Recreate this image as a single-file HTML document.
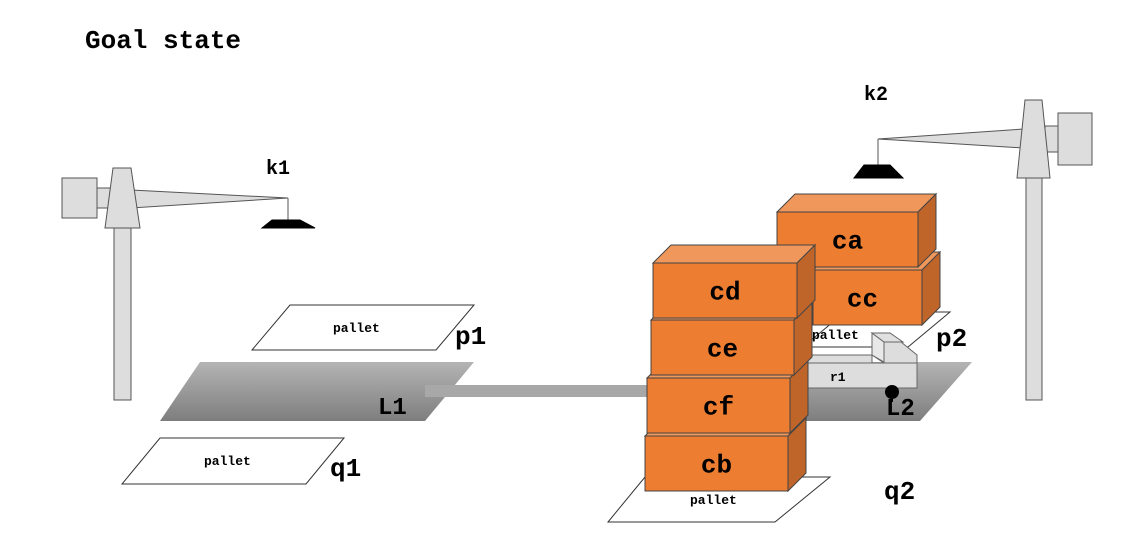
<!DOCTYPE html>
<html><head><meta charset="utf-8"><style>
body{margin:0;background:#fff}
svg{display:block}
text{font-family:"Liberation Mono",monospace;font-weight:bold;fill:#000}
</style></head><body>
<svg width="1128" height="534" viewBox="0 0 1128 534">
<defs>
<linearGradient id="gl" x1="0" y1="0" x2="0" y2="1"><stop offset="0" stop-color="#b4b4b4"/><stop offset="1" stop-color="#7e7e7e"/></linearGradient>
</defs>
<text x="85" y="48" font-size="26">Goal state</text>

<g stroke="#555" stroke-width="1" fill="#ddd">
<rect x="114" y="228" width="17" height="172"/>
<rect x="62" y="178" width="35" height="40"/>
<rect x="97" y="188" width="16" height="20"/>
<polygon points="131,190 288,198 131,208"/>
<polygon points="113,168 131,168 140,228 105,228"/>
<line x1="288" y1="198" x2="288" y2="220"/>
<polygon points="272,220 300,220 315,228 262,228" fill="#000" stroke="#000"/>
</g>
<text x="266" y="174" font-size="20">k1</text>

<g stroke="#555" stroke-width="1" fill="#ddd">
<rect x="1026" y="178" width="16" height="222"/>
<rect x="1058" y="113" width="34" height="52"/>
<rect x="1045" y="126" width="13" height="26"/>
<polygon points="1024,129 878,139 1024,148"/>
<polygon points="1025,100 1042,100 1050,178 1017,178"/>
<line x1="878" y1="139" x2="878" y2="165"/>
<polygon points="864,165 890,165 903,178 854,178" fill="#000" stroke="#000"/>
</g>
<text x="864" y="100" font-size="20">k2</text>

<polygon points="200,362 474,362 425,421 160,421" fill="url(#gl)"/>
<polygon points="810,362 972,362 920,421 800,421" fill="url(#gl)"/>
<rect x="425" y="385" width="228" height="12" fill="#a8a8a8"/>
<text x="378" y="414" font-size="24">L1</text>

<polygon points="290,305 474,305 436,350 252,350" fill="#fff" stroke="#333"/>
<text x="333" y="332" font-size="13">pallet</text>
<polygon points="160,438 344,438 306,484 122,484" fill="#fff" stroke="#333"/>
<text x="204" y="465" font-size="13">pallet</text>
<polygon points="845,312 950,312 908,347 803,347" fill="#fff" stroke="#333"/>
<polygon points="645,477 830,477 775,522 608,522" fill="#fff" stroke="#333"/>
<text x="455" y="344" font-size="26">p1</text>
<text x="330" y="476" font-size="26">q1</text>
<text x="936" y="346" font-size="26">p2</text>
<text x="884" y="499" font-size="26">q2</text>

<g stroke="#666" fill="#ddd">
<polygon points="808,355 872,355 872,363 808,363"/>
<polygon points="872,333 890,333 917,355 917,363 884,363 872,355"/>
<rect x="808" y="363" width="109" height="25"/>
<polygon points="872,333 884,342 884,362 872,355" fill="#e8e8e8"/>
<polygon points="872,333 890,333 903,342 884,342" fill="#e0e0e0"/>
</g>
<text x="830" y="381" font-size="13">r1</text>
<circle cx="892" cy="392" r="7" fill="#000"/>
<line x1="892" y1="392" x2="892" y2="402" stroke="#000" stroke-width="2"/>
<text x="886" y="415" font-size="24">L2</text>
<text x="812" y="339" font-size="13">pallet</text>

<g id="boxes"></g>
<text x="690" y="504" font-size="13">pallet</text>
</svg>
<script>
var boxNames=["cc","ca","cb","cf","ce","cd"];
var boxX=[813,777,645,647,651,653];
var boxY=[270,212,436,378,320,263];
var boxW=[109,141,143,143,143,144];
(function(){
var g=document.getElementById('boxes');
var ns='http://www.w3.org/2000/svg';
for(var i=0;i<boxNames.length;i++){
  var x=boxX[i],y=boxY[i],w=boxW[i],h=55,d=18;
  var grp=document.createElementNS(ns,'g');
  
  
  var tp=document.createElementNS(ns,'polygon');
  tp.setAttribute('points',[x,y,x+d,y-d,x+w+d,y-d,x+w,y].join(','));
  tp.setAttribute('fill','#f0985c');tp.setAttribute('stroke','#444');
  var side=document.createElementNS(ns,'polygon');
  side.setAttribute('points',[x+w,y,x+w+d,y-d,x+w+d,y+h-d,x+w,y+h].join(','));
  side.setAttribute('fill','#c0652a');side.setAttribute('stroke','#444');
  var fr=document.createElementNS(ns,'rect');
  fr.setAttribute('x',x);fr.setAttribute('y',y);fr.setAttribute('width',w);fr.setAttribute('height',h);
  fr.setAttribute('fill','#ed7d31');fr.setAttribute('stroke','#444');
  var t=document.createElementNS(ns,'text');
  t.setAttribute('x',x+w/2+(boxNames[i]==='cc'?-5:0));t.setAttribute('y',y+h/2+9);
  t.setAttribute('font-size','26');t.setAttribute('text-anchor','middle');
  t.textContent=boxNames[i];
  
  
  grp.appendChild(tp);grp.appendChild(side);grp.appendChild(fr);grp.appendChild(t);
  g.appendChild(grp);
}
})();
</script>
</body></html>
